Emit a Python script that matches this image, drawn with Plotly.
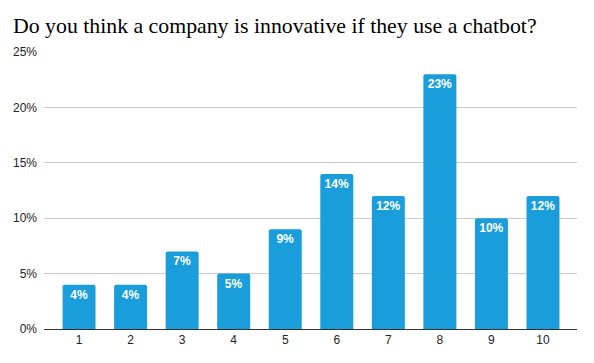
import plotly.graph_objects as go

categories = ["1", "2", "3", "4", "5", "6", "7", "8", "9", "10"]
values = [4, 4, 7, 5, 9, 14, 12, 23, 10, 12]
labels = [f"{v}%" for v in values]
tick_vals = [0, 5, 10, 15, 20, 25]
tick_text = ["0%", "5%", "10%", "15%", "20%", "25%"]

W, H = 586, 355  # page has 8px body margin

fig = go.Figure(go.Bar(
    x=categories, y=values, text=labels,
    textposition="inside", insidetextanchor="end",
    textfont=dict(family="Liberation Sans, Arial", size=12, color="white"),
    texttemplate="<b>%{text}</b>",
    marker=dict(color="#1a9edb", line=dict(width=0), cornerradius=2),
    hoverinfo="skip",
))

fig.update_layout(
    width=W, height=H,
    margin=dict(l=36, r=17, t=44, b=34, autoexpand=False),
    paper_bgcolor="white", plot_bgcolor="white",
    bargap=0.36,
    title=dict(text="Do you think a company is innovative if they use a chatbot?",
               x=5 / W, xref="container", xanchor="left",
               y=1 - 17 / H, yref="container", yanchor="middle",
               font=dict(family="Liberation Serif, DejaVu Serif, serif", size=21.8, color="#000")),
    showlegend=False,
    font=dict(family="Liberation Sans, Arial", size=12, color="#222"),
)
fig.update_xaxes(type="category", range=[-0.68, 9.66], showgrid=False,
                 showline=True, linecolor="#333", linewidth=1, automargin=False,
                 ticks="", tickfont=dict(size=12, color="#222"))
fig.update_yaxes(range=[0, 25], tickvals=tick_vals, ticktext=tick_text,
                 showgrid=True, gridcolor="#cccccc", gridwidth=1, automargin=False,
                 zeroline=False, showline=False, ticks="",
                 ticklabelstandoff=6, tickfont=dict(size=12, color="#222"))

fig.write_html("out.html")
